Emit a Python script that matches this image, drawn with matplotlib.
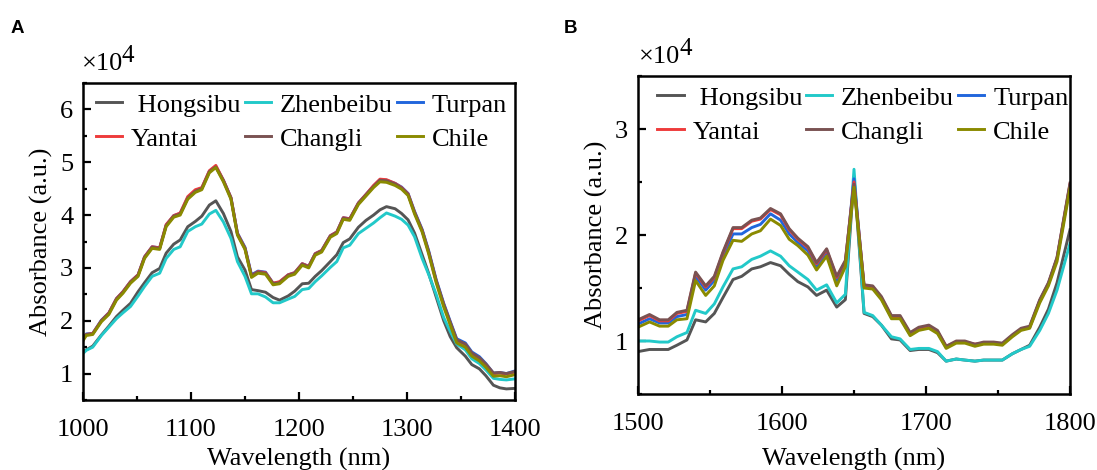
import matplotlib
matplotlib.use('Agg')
import matplotlib.pyplot as plt
from matplotlib.ticker import MultipleLocator

plt.rcParams['font.family'] = ['Liberation Serif', 'DejaVu Serif']

# ---------------- data (absorbance, x10^4) ----------------
names = [' Hongsibu', 'Zhenbeibu', 'Turpan', 'Yantai', 'Changli', 'Chile']
colors = ['#555555', '#22c9c9', '#2166dc', '#ee3b3b', '#7a5252', '#8a8a00']

wl_a = [1000, 1003, 1009, 1017, 1024, 1031, 1037, 1044, 1051, 1057,
        1064, 1071, 1077, 1084, 1090, 1097, 1104, 1110, 1117, 1123,
        1130, 1137, 1143, 1150, 1156, 1162, 1169, 1176, 1182, 1190,
        1196, 1203, 1209, 1215, 1221, 1229, 1235, 1241, 1247, 1255,
        1262, 1269, 1275, 1281, 1289, 1295, 1301, 1307, 1314, 1320,
        1327, 1334, 1340, 1346, 1354, 1360, 1367, 1373, 1380, 1386,
        1392, 1400]

hongsibu_a = [1.41, 1.45, 1.52, 1.73, 1.90, 2.08, 2.20, 2.33, 2.55, 2.72,
              2.91, 2.99, 3.28, 3.45, 3.53, 3.78, 3.88, 3.98, 4.19, 4.27,
              4.03, 3.69, 3.21, 2.96, 2.59, 2.57, 2.54, 2.44, 2.39, 2.47,
              2.56, 2.70, 2.71, 2.84, 2.95, 3.12, 3.25, 3.48, 3.55, 3.77,
              3.90, 4.00, 4.10, 4.16, 4.12, 4.03, 3.91, 3.66, 3.25, 2.90,
              2.45, 2.00, 1.70, 1.49, 1.33, 1.17, 1.09, 0.96, 0.78, 0.73,
              0.71, 0.72]
zhenbeibu_a = [1.38, 1.44, 1.50, 1.72, 1.88, 2.04, 2.15, 2.27, 2.47, 2.65,
               2.84, 2.90, 3.18, 3.35, 3.40, 3.69, 3.78, 3.83, 4.02, 4.09,
               3.87, 3.56, 3.12, 2.84, 2.51, 2.51, 2.45, 2.34, 2.34, 2.41,
               2.46, 2.59, 2.61, 2.74, 2.85, 3.01, 3.12, 3.38, 3.43, 3.65,
               3.75, 3.85, 3.95, 4.04, 3.98, 3.92, 3.81, 3.59, 3.18, 2.88,
               2.50, 2.06, 1.80, 1.56, 1.45, 1.28, 1.19, 1.07, 0.91, 0.89,
               0.88, 0.90]
turpan_a = [1.65, 1.75, 1.76, 2.01, 2.15, 2.42, 2.55, 2.74, 2.87, 3.21,
            3.40, 3.38, 3.81, 3.99, 4.03, 4.33, 4.46, 4.51, 4.83, 4.92,
            4.66, 4.33, 3.66, 3.39, 2.87, 2.94, 2.92, 2.71, 2.73, 2.87,
            2.91, 3.08, 3.03, 3.27, 3.33, 3.61, 3.68, 3.95, 3.93, 4.23,
            4.39, 4.55, 4.67, 4.66, 4.60, 4.53, 4.41, 4.07, 3.73, 3.33,
            2.78, 2.33, 1.99, 1.66, 1.58, 1.41, 1.32, 1.19, 1.01, 1.02,
            1.00, 1.05]
yantai_a = [1.64, 1.74, 1.76, 2.00, 2.15, 2.42, 2.55, 2.74, 2.87, 3.21,
            3.40, 3.38, 3.82, 3.99, 4.04, 4.35, 4.48, 4.52, 4.84, 4.94,
            4.66, 4.33, 3.65, 3.37, 2.85, 2.93, 2.91, 2.71, 2.74, 2.87,
            2.91, 3.08, 3.03, 3.27, 3.33, 3.61, 3.68, 3.95, 3.93, 4.23,
            4.39, 4.56, 4.68, 4.67, 4.60, 4.52, 4.40, 4.05, 3.71, 3.30,
            2.75, 2.30, 1.96, 1.63, 1.55, 1.38, 1.29, 1.17, 1.00, 1.01,
            0.99, 1.03]
changli_a = [1.64, 1.74, 1.75, 2.00, 2.14, 2.41, 2.54, 2.73, 2.86, 3.20,
             3.39, 3.37, 3.80, 3.98, 4.02, 4.32, 4.45, 4.50, 4.82, 4.91,
             4.65, 4.32, 3.64, 3.37, 2.85, 2.92, 2.90, 2.70, 2.72, 2.86,
             2.90, 3.07, 3.02, 3.26, 3.32, 3.60, 3.67, 3.94, 3.92, 4.22,
             4.38, 4.54, 4.66, 4.65, 4.59, 4.51, 4.39, 4.05, 3.71, 3.31,
             2.76, 2.31, 1.97, 1.64, 1.56, 1.39, 1.30, 1.18, 1.01, 1.02,
             1.00, 1.04]
chile_a = [1.62, 1.72, 1.74, 1.98, 2.12, 2.39, 2.52, 2.71, 2.84, 3.18,
           3.37, 3.35, 3.78, 3.96, 4.00, 4.30, 4.43, 4.48, 4.80, 4.90,
           4.63, 4.30, 3.62, 3.35, 2.82, 2.90, 2.88, 2.68, 2.70, 2.84,
           2.88, 3.05, 3.00, 3.24, 3.30, 3.58, 3.65, 3.92, 3.90, 4.20,
           4.36, 4.52, 4.63, 4.62, 4.56, 4.49, 4.37, 4.02, 3.68, 3.27,
           2.72, 2.26, 1.92, 1.58, 1.50, 1.33, 1.24, 1.12, 0.95, 0.96,
           0.94, 0.98]

wl_b = [1500, 1508, 1515, 1521, 1527, 1534, 1540, 1547, 1553, 1559,
        1566, 1572, 1579, 1585, 1592, 1599, 1605, 1611, 1618, 1624,
        1631, 1638, 1644, 1650, 1657, 1663, 1669, 1676, 1682, 1689,
        1695, 1702, 1708, 1714, 1721, 1727, 1734, 1740, 1747, 1753,
        1760, 1766, 1772, 1779, 1785, 1791, 1800]

hongsibu_b = [0.90, 0.92, 0.92, 0.92, 0.96, 1.01, 1.20, 1.18, 1.26, 1.41,
              1.58, 1.61, 1.68, 1.70, 1.74, 1.71, 1.63, 1.56, 1.51, 1.43,
              1.48, 1.32, 1.39, 2.55, 1.26, 1.23, 1.15, 1.02, 1.01, 0.91,
              0.92, 0.92, 0.89, 0.81, 0.83, 0.82, 0.81, 0.82, 0.82, 0.82,
              0.88, 0.92, 0.96, 1.13, 1.30, 1.55, 2.05]
zhenbeibu_b = [1.00, 1.00, 0.99, 0.99, 1.04, 1.08, 1.29, 1.26, 1.35, 1.51,
               1.68, 1.70, 1.77, 1.80, 1.85, 1.80, 1.71, 1.65, 1.58, 1.48,
               1.53, 1.36, 1.44, 2.62, 1.27, 1.24, 1.15, 1.04, 1.02, 0.92,
               0.93, 0.93, 0.90, 0.81, 0.83, 0.82, 0.81, 0.82, 0.82, 0.82,
               0.88, 0.92, 0.95, 1.10, 1.26, 1.48, 1.92]
turpan_b = [1.16, 1.21, 1.17, 1.17, 1.23, 1.25, 1.61, 1.48, 1.57, 1.80,
            2.01, 2.01, 2.07, 2.10, 2.20, 2.14, 2.01, 1.93, 1.85, 1.70,
            1.84, 1.57, 1.73, 2.53, 1.51, 1.50, 1.40, 1.22, 1.22, 1.06,
            1.11, 1.13, 1.08, 0.94, 0.99, 0.99, 0.96, 0.98, 0.98, 0.97,
            1.05, 1.11, 1.13, 1.38, 1.54, 1.78, 2.47]
yantai_b = [1.19, 1.24, 1.19, 1.19, 1.26, 1.28, 1.64, 1.51, 1.60, 1.83,
            2.06, 2.06, 2.13, 2.15, 2.24, 2.19, 2.05, 1.96, 1.88, 1.73,
            1.86, 1.60, 1.75, 2.50, 1.52, 1.51, 1.41, 1.23, 1.23, 1.07,
            1.12, 1.14, 1.09, 0.95, 0.99, 0.99, 0.97, 0.98, 0.98, 0.97,
            1.05, 1.11, 1.13, 1.38, 1.54, 1.78, 2.48]
changli_b = [1.20, 1.25, 1.20, 1.20, 1.27, 1.29, 1.65, 1.52, 1.61, 1.84,
             2.07, 2.07, 2.14, 2.16, 2.25, 2.20, 2.06, 1.97, 1.89, 1.74,
             1.87, 1.61, 1.76, 2.48, 1.53, 1.52, 1.42, 1.24, 1.24, 1.08,
             1.13, 1.15, 1.10, 0.95, 1.00, 1.00, 0.97, 0.99, 0.99, 0.98,
             1.06, 1.12, 1.14, 1.39, 1.55, 1.79, 2.49]
chile_b = [1.13, 1.18, 1.14, 1.14, 1.20, 1.21, 1.57, 1.43, 1.52, 1.76,
           1.95, 1.94, 2.01, 2.04, 2.15, 2.09, 1.96, 1.90, 1.81, 1.67,
           1.80, 1.52, 1.70, 2.45, 1.50, 1.49, 1.39, 1.21, 1.21, 1.05,
           1.10, 1.12, 1.07, 0.93, 0.98, 0.98, 0.95, 0.97, 0.97, 0.96,
           1.04, 1.10, 1.12, 1.36, 1.52, 1.75, 2.44]

series_a = [hongsibu_a, zhenbeibu_a, turpan_a, yantai_a, changli_a, chile_a]
series_b = [hongsibu_b, zhenbeibu_b, turpan_b, yantai_b, changli_b, chile_b]

# ---------------- plotting ----------------
fig = plt.figure(figsize=(10.97, 4.70), dpi=100)
W, H = 1097, 470


def px_axes(l, t, r, b):
    return fig.add_axes([l / W, 1 - b / H, (r - l) / W, (b - t) / H])


def style(ax, xlim, ylim, xmajor, ymajor, xlabelpad):
    ax.set_xlim(*xlim)
    ax.set_ylim(*ylim)
    ax.xaxis.set_major_locator(MultipleLocator(xmajor))
    ax.xaxis.set_minor_locator(MultipleLocator(xmajor / 2))
    ax.yaxis.set_major_locator(MultipleLocator(ymajor))
    ax.yaxis.set_minor_locator(MultipleLocator(ymajor / 2))
    ax.tick_params(which='both', direction='in', width=1.6, labelsize=19,
                   top=False, right=False)
    ax.tick_params(axis='x', which='major', length=5.5, pad=14)
    ax.tick_params(axis='y', which='major', length=5.5, pad=7)
    ax.tick_params(which='minor', length=3)
    for sp in ax.spines.values():
        sp.set_linewidth(1.8)
    ax.set_xlabel('Wavelength (nm)', fontsize=19, labelpad=xlabelpad)
    ax.set_ylabel('Absorbance (a.u.)', fontsize=19, labelpad=5)


def legend(ax, x0):
    h, l = ax.get_legend_handles_labels()
    order = [0, 3, 1, 4, 2, 5]
    ax.legend([h[i] for i in order], [l[i] for i in order], ncol=3,
              loc='upper left', bbox_to_anchor=(x0, 0.968), frameon=False,
              fontsize=19, handlelength=1.0, handletextpad=0.33,
              columnspacing=0.15, labelspacing=0.4, borderpad=0,
              borderaxespad=0)


def power(x, y):
    # "x10" with a full-size raised 4, pixel coords of the "x10" baseline
    fig.text(x / W, 1 - y / H, '\u00d710', fontsize=19, va='baseline')
    fig.text((x + 40) / W, 1 - (y - 8) / H, '4', fontsize=18, va='baseline')


ax1 = px_axes(83, 83, 515, 400)
for ys, name, c in zip(series_a, names, colors):
    ax1.plot(wl_a, ys, color=c, lw=2.1, label=name)
style(ax1, (1000, 1400), (0.5, 6.5), 100, 1, 5)
legend(ax1, 0.03)
power(82, 70)
fig.text(11 / W, 1 - 33 / H, 'A', fontsize=13.5, fontweight='bold',
         family='Liberation Sans')

ax2 = px_axes(638, 76, 1070, 394)
for ys, name, c in zip(series_b, names, colors):
    ax2.plot(wl_b, ys, color=c, lw=2.1, label=name)
style(ax2, (1500, 1800), (0.5, 3.5), 100, 1, 9)
legend(ax2, 0.045)
power(639, 63)
fig.text(564 / W, 1 - 33 / H, 'B', fontsize=13.5, fontweight='bold',
         family='Liberation Sans')

fig.savefig('out.png', dpi=100)
